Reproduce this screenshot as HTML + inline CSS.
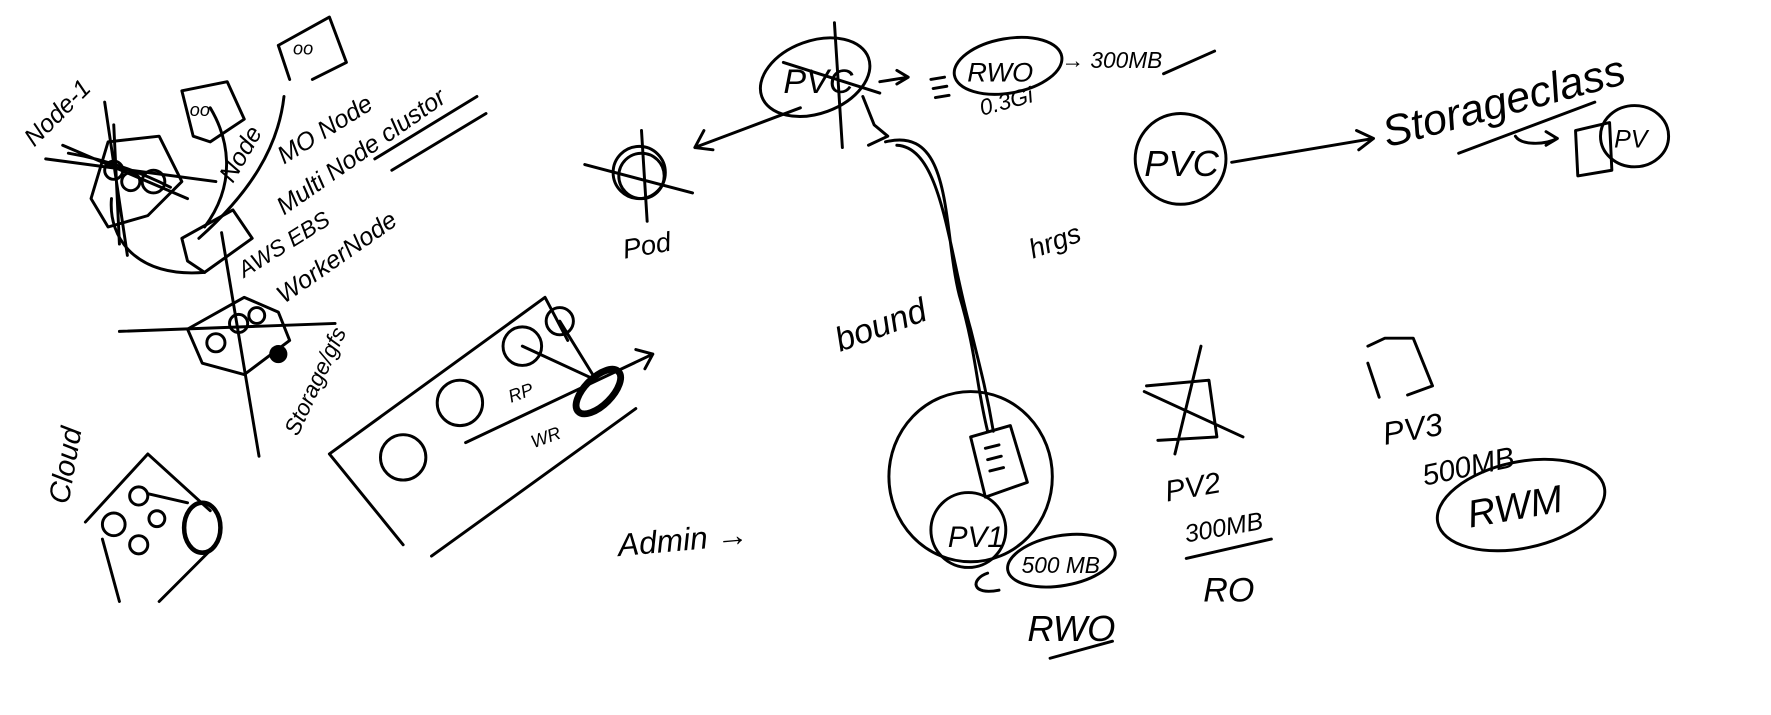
<!DOCTYPE html>
<html><head><meta charset="utf-8"><style>
html,body{margin:0;padding:0;background:#fff;width:1771px;height:715px;overflow:hidden}
svg{display:block}
.s{fill:none;stroke:#000;stroke-width:2.6;stroke-linecap:round;stroke-linejoin:round}
text{font-family:"Liberation Sans",sans-serif;fill:#000;font-style:italic}
</style></head><body>
<svg width="1771" height="715" viewBox="0 0 1560 630">
<g>
<text x="30" y="130" font-size="22" transform="rotate(-45 30 130)">Node-1</text>
<path class="s" d="M80,175 L95,125 L140,120 L160,160 L130,190 L95,200 Z"/>
<circle class="s" cx="100" cy="150" r="8"/><circle class="s" cx="115" cy="160" r="8"/><circle class="s" cx="135" cy="160" r="10"/>
<path class="s" d="M92,90 L112,225 M100,110 L105,215 M40,140 L190,160 M55,128 L165,175 M60,135 C90,140 120,150 150,165"/>
<path class="s" d="M98,175 C95,210 120,245 180,240"/>
<path class="s" d="M160,80 L200,72 L215,105 L185,125 L170,120 Z"/><text x="167" y="102" font-size="16">oo</text>
<path class="s" d="M245,40 L290,15 L305,55 L275,70 M245,40 L255,70"/><text x="258" y="48" font-size="16">oo</text>
<path class="s" d="M185,95 C200,120 210,160 180,200"/>
<path class="s" d="M250,85 C245,130 220,170 175,210"/>
<text x="205" y="162" font-size="22" transform="rotate(-60 205 162)">Node</text>
<text x="250" y="145" font-size="22" transform="rotate(-32 250 145)">MO Node</text>
<text x="250" y="190" font-size="22" transform="rotate(-35 250 190)">Multi Node clustor</text>
<path class="s" d="M330,140 L420,85 M345,150 L428,100"/>
<text x="215" y="245" font-size="20" transform="rotate(-32 215 245)">AWS EBS</text>
<text x="250" y="268" font-size="22" transform="rotate(-35 250 268)">WorkerNode</text>
<path class="s" d="M160,210 L205,185 L222,210 L180,240 L165,230 Z"/>
<path class="s" d="M195,205 L228,402"/>
<path class="s" d="M165,290 L215,262 L245,275 L255,300 L215,330 L178,320 Z"/>
<circle class="s" cx="190" cy="302" r="8"/><circle class="s" cx="210" cy="285" r="8"/><circle class="s" cx="226" cy="278" r="7"/>
<circle cx="245" cy="312" r="8" fill="#000"/>
<path class="s" d="M105,292 L295,285"/>
<text x="262" y="385" font-size="20" transform="rotate(-65 262 385)">Storage/gfs</text>
</g>
<g>
<path class="s" d="M290,400 L480,262 L500,300 M290,400 L355,480 M380,490 L560,360"/>
<circle class="s" cx="355" cy="403" r="20"/><circle class="s" cx="405" cy="355" r="20"/><circle class="s" cx="460" cy="305" r="17"/><circle class="s" cx="493" cy="283" r="12"/>
<ellipse cx="527" cy="345" rx="12" ry="25" transform="rotate(45 527 345)" fill="none" stroke="#000" stroke-width="6"/>
<path class="s" d="M410,390 L575,312 M560,308 L575,312 L568,325 M460,305 L525,335 M493,283 L522,330"/>
<text x="450" y="355" font-size="16" transform="rotate(-20 450 355)">RP</text>
<text x="470" y="395" font-size="16" transform="rotate(-20 470 395)">WR</text>
</g>
<g>
<text x="60" y="445" font-size="26" transform="rotate(-80 60 445)">Cloud</text>
<path class="s" d="M75,460 L130,400 L185,450 M90,475 L105,530 M140,530 L190,480"/>
<circle class="s" cx="100" cy="462" r="10"/><circle class="s" cx="122" cy="437" r="8"/><circle class="s" cx="122" cy="480" r="8"/><circle class="s" cx="138" cy="457" r="7"/>
<ellipse cx="178" cy="465" rx="16" ry="22" fill="none" stroke="#000" stroke-width="4"/>
<path class="s" d="M130,435 L165,443"/>
</g>
<g>
<circle class="s" cx="563" cy="152" r="23"/><circle class="s" cx="565" cy="155" r="20"/>
<path class="s" d="M515,145 L610,170 M565,115 L570,195"/>
<text x="550" y="228" font-size="24" transform="rotate(-10 550 228)">Pod</text>
</g>
<g>
<ellipse class="s" cx="718" cy="68" rx="50" ry="32" transform="rotate(-20 718 68)"/>
<text x="690" y="82" font-size="30">PVC</text>
<path class="s" d="M735,20 L742,130 M690,55 L775,82 M705,95 L612,130 M612,130 L620,115 M612,130 L628,132"/>
<path class="s" d="M760,85 L770,110 L782,120 L765,128 M775,72 L800,68 M790,62 L800,68 L790,74"/>
<path class="s" d="M820,70 L832,68 M822,78 L834,76 M824,86 L836,84"/>
<ellipse class="s" cx="888" cy="58" rx="48" ry="24" transform="rotate(-10 888 58)"/>
<text x="852" y="72" font-size="24">RWO</text>
<text x="865" y="102" font-size="20" transform="rotate(-15 865 102)">0.3Gi</text>
<text x="935" y="60" font-size="20">→ 300MB</text>
<path class="s" d="M1025,65 L1070,45"/>
<path class="s" d="M780,125 C840,110 830,200 845,260 C860,310 860,340 870,380 M790,128 C830,130 835,220 855,290 C865,330 870,350 875,380"/>
<text x="740" y="310" font-size="30" transform="rotate(-20 740 310)">bound</text>
<text x="910" y="228" font-size="24" transform="rotate(-20 910 228)">hrgs</text>
</g>
<g>
<ellipse class="s" cx="855" cy="420" rx="72" ry="75"/>
<path class="s" d="M855,385 L890,375 L905,425 L868,438 Z"/>
<path class="s" d="M868,395 L880,392 M870,405 L882,402 M872,415 L884,412"/>
<circle class="s" cx="853" cy="467" r="33"/>
<text x="835" y="482" font-size="26">PV1</text>
<ellipse class="s" cx="935" cy="494" rx="48" ry="22" transform="rotate(-10 935 494)"/>
<text x="900" y="505" font-size="20">500 MB</text>
<path class="s" d="M870,505 C855,510 855,525 880,520"/>
<text x="905" y="565" font-size="32">RWO</text>
<path class="s" d="M925,580 L980,565"/>
<text x="545" y="490" font-size="28" transform="rotate(-5 545 490)">Admin →</text>
</g>
<g>
<circle class="s" cx="1040" cy="140" r="40"/>
<text x="1008" y="155" font-size="32">PVC</text>
<path class="s" d="M1085,143 L1210,122 M1195,115 L1210,122 L1197,132"/>
<text x="1222" y="130" font-size="38" transform="rotate(-15 1222 130)">Storageclass</text>
<path class="s" d="M1285,135 L1405,90 M1335,120 C1340,128 1360,128 1372,122 M1362,116 L1372,122 L1362,128"/>
<path class="s" d="M1388,115 L1418,108 L1420,150 L1390,155 Z"/>
<ellipse class="s" cx="1440" cy="120" rx="30" ry="27"/>
<text x="1422" y="130" font-size="22">PV</text>
<path class="s" d="M1010,340 L1065,335 L1072,385 L1020,388 M1008,345 L1095,385 M1058,305 L1035,400"/>
<text x="1028" y="442" font-size="26" transform="rotate(-10 1028 442)">PV2</text>
<text x="1045" y="478" font-size="22" transform="rotate(-10 1045 478)">300MB</text>
<path class="s" d="M1045,492 L1120,475"/>
<text x="1060" y="530" font-size="30">RO</text>
<path class="s" d="M1205,305 L1220,298 L1245,298 L1262,340 L1240,348 M1205,320 L1215,350"/>
<text x="1220" y="392" font-size="28" transform="rotate(-10 1220 392)">PV3</text>
<text x="1255" y="428" font-size="26" transform="rotate(-12 1255 428)">500MB</text>
<ellipse class="s" cx="1340" cy="445" rx="75" ry="38" transform="rotate(-12 1340 445)"/>
<text x="1295" y="465" font-size="34" transform="rotate(-10 1295 465)">RWM</text>
</g>
</svg>
</body></html>
